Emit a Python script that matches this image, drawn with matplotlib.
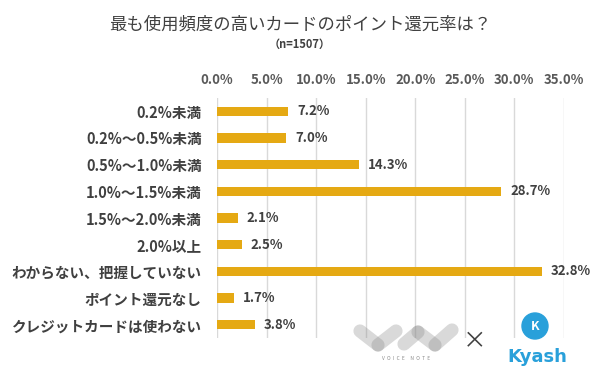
import matplotlib
matplotlib.use("Agg")
import matplotlib.pyplot as plt
from matplotlib.patches import Ellipse
from matplotlib.lines import Line2D

plt.rcParams['font.family'] = ['Noto Sans CJK JP', 'DejaVu Sans']

categories = ['0.2%未満', '0.2%～0.5%未満', '0.5%～1.0%未満', '1.0%～1.5%未満',
              '1.5%～2.0%未満', '2.0%以上', 'わからない、把握していない',
              'ポイント還元なし', 'クレジットカードは使わない']
values = [7.2, 7.0, 14.3, 28.7, 2.1, 2.5, 32.8, 1.7, 3.8]
ticks = [0, 5, 10, 15, 20, 25, 30, 35]
tick_labels = ['0.0%', '5.0%', '10.0%', '15.0%', '20.0%', '25.0%', '30.0%', '35.0%']

W, H = 600, 385


def px(x, y):
    # pixel position -> figure fraction
    return x / W, 1 - y / H


fig = plt.figure(figsize=(6.0, 3.85), dpi=100)
ax = fig.add_axes([0.3617, 0.122, 0.578, 0.6235])

y = list(range(len(categories)))
ax.barh(y, values, height=0.36, color='#E5A913', zorder=3)
for yi, v in zip(y, values):
    ax.text(v + 0.9, yi, f'{v:.1f}%', va='center', ha='left', fontsize=9.5,
            fontweight='bold', color='#404040')

ax.set_xlim(0, 35)
ax.set_ylim(len(categories) - 0.5, -0.5)
ax.set_xticks(ticks)
ax.set_xticklabels(tick_labels)
ax.xaxis.tick_top()
ax.set_yticks(y)
ax.set_yticklabels(categories)
ax.tick_params(axis='x', length=0, pad=8, labelsize=9.5, labelcolor='#595959')
ax.tick_params(axis='y', length=0, pad=11, labelsize=10.5, labelcolor='#404040')
for lab in ax.get_xticklabels() + ax.get_yticklabels():
    lab.set_fontweight('bold')
ax.grid(axis='x', color='#D9D9D9', linewidth=1, zorder=0)
for s in ax.spines.values():
    s.set_visible(False)

fig.text(0.5, 0.935, '最も使用頻度の高いカードのポイント還元率は？', ha='center', va='center',
         fontsize=12.5, color='#404040')
fig.text(0.5, 0.885, '（n=1507）', ha='center', va='center', fontsize=8,
         fontweight='bold', color='#404040')

# VOICE NOTE logo (approximate)
strokes = [[(360, 331), (378, 345)], [(378, 345), (396, 331)],
           [(404, 344), (418, 332)], [(418, 332), (435, 345)], [(435, 345), (452, 330)]]
for seg in strokes:
    xs, ys = zip(*[px(a, b) for a, b in seg])
    fig.add_artist(Line2D(xs, ys, transform=fig.transFigure, color='#8C8C8C', alpha=0.33,
                          linewidth=9.5, solid_capstyle='round'))
fig.text(*px(406, 359), 'V  O  I  C  E     N  O  T  E', ha='center', va='center',
         fontsize=3.5, color='#8C8C8C')
fig.text(*px(475, 342), '×', ha='center', va='center', fontsize=17, color='#404040')

# Kyash logo (approximate)
fig.add_artist(Ellipse(px(535, 326), 26 / W, 26 / H, transform=fig.transFigure,
                       color='#29A0DA'))
fig.text(*px(535, 326), 'K', ha='center', va='center', fontsize=9, fontweight='bold',
         color='white')
fig.text(*px(537, 357), 'Kyash', ha='center', va='center', fontsize=13,
         fontweight='bold', color='#29A0DA', family='DejaVu Sans')

fig.savefig('out.png', dpi=100)
